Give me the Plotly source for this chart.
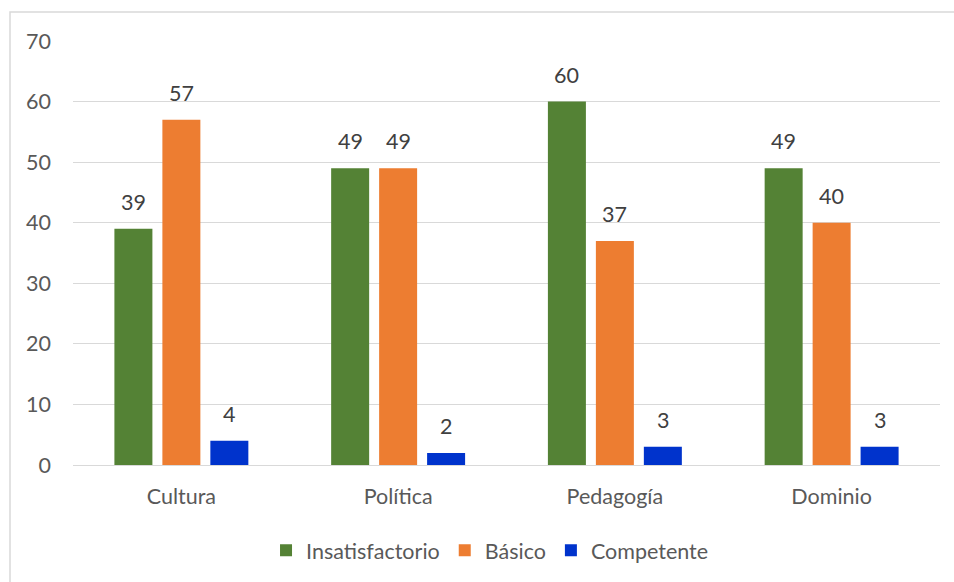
import plotly.graph_objects as go

categories = ["Cultura", "Política", "Pedagogía", "Dominio"]
insatisfactorio = [39, 49, 60, 49]
basico = [57, 49, 37, 40]
competente = [4, 2, 3, 3]
series_names = ["Insatisfactorio", "Básico", "Competente"]
colors = ["#548235", "#ED7D31", "#0033CC"]

FONT = "Lato"
FS = 21.5
fig = go.Figure()
all_vals = [insatisfactorio, basico, competente]
for name, vals, col in zip(series_names, all_vals, colors):
    fig.add_trace(go.Bar(
        x=categories, y=vals, name=name, marker_color=col,
        marker_line_width=0,
    ))

annotations = []
for i, vals in enumerate(all_vals):
    for cat, v in zip(categories, vals):
        annotations.append(dict(
            x=cat, y=v, xref="x", yref="y", text=str(v), showarrow=False,
            xanchor="center", yanchor="bottom", xshift=(i - 1) * 48, yshift=12,
            font=dict(family=FONT, size=FS, color="#404040"),
        ))

fig.update_layout(
    width=954, height=582,
    margin=dict(l=73, r=14, t=41, b=116),
    paper_bgcolor="white", plot_bgcolor="white",
    barmode="group", bargap=0.336, bargroupgap=0.208,
    font=dict(family=FONT, size=FS, color="#595959"),
    showlegend=True,
    legend=dict(orientation="h", x=0.481, xanchor="center", y=-0.198, yanchor="middle",
                font=dict(family=FONT, size=FS, color="#595959"),
                itemwidth=30, traceorder="normal"),
    yaxis=dict(range=[0, 70], dtick=10, showgrid=True, gridcolor="#D9D9D9", gridwidth=1,
               zeroline=False, showline=False, ticks="", ticklabelstandoff=21,
               tickfont=dict(family=FONT, size=FS, color="#595959")),
    xaxis=dict(showline=True, linecolor="#D9D9D9", linewidth=1, ticks="",
               ticklabelstandoff=12,
               tickfont=dict(family=FONT, size=FS, color="#595959")),
    annotations=annotations,
    shapes=[dict(type="rect", xref="paper", yref="paper",
                 x0=(10 - 73) / 867, x1=(960 - 73) / 867,
                 y0=(466 - 590) / 425, y1=(466 - 12) / 425,
                 line=dict(color="#D9D9D9", width=1.5), fillcolor="rgba(0,0,0,0)", layer="below")],
)

fig.write_html("out.html")
